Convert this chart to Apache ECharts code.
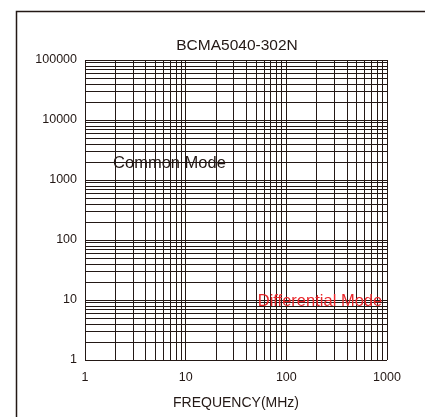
<!DOCTYPE html>
<html><head><meta charset="utf-8">
<script src="https://cdn.jsdelivr.net/npm/echarts@6/dist/echarts.min.js"></script>
<style>html,body{margin:0;padding:0;background:#fff}#c{width:425px;height:417px}</style>
</head><body><div id="c"></div>
<script>
var title = 'BCMA5040-302N';
var xName = 'FREQUENCY(MHz)';
var xRange = [1, 1000];
var yRange = [1, 100000];
var xTicks = [1, 10, 100, 1000];
var yTicks = [1, 10, 100, 1000, 10000, 100000];
var annotations = [
  {text: 'Common Mode', x: 1.9, y: 1880, color: '#231815'},
  {text: 'Differential Mode', x: 52, y: 9.6, color: '#e8262a'}
];

function logGrid(lo, hi) {
  var out = [];
  for (var d = lo; d < hi; d *= 10) {
    for (var k = 1; k <= 9; k++) out.push(d * k);
  }
  out.push(hi);
  return out;
}
var gridXv = logGrid(xRange[0], xRange[1]);
var gridYv = logGrid(yRange[0], yRange[1]);
var lineColor = '#231815';
var markData = [];
gridXv.forEach(function (v) { markData.push({xAxis: v}); });
gridYv.forEach(function (v) { markData.push({yAxis: v}); });

var font = 'Liberation Sans, Arial';
var chart = echarts.init(document.getElementById('c'), null, {renderer: 'canvas'});
chart.setOption({
  animation: false,
  backgroundColor: '#fff',
  title: {text: title, left: 232, top: 33, textAlign: 'center',
    textStyle: {fontFamily: font, fontSize: 15.5, fontWeight: 'normal', color: '#231815'}},
  grid: {left: 85, right: 38, top: 60, bottom: 57},
  graphic: [{type: 'polyline', silent: true,
    shape: {points: [[16.5, 430], [16.5, 11.5], [430, 11.5]]},
    style: {stroke: '#231815', lineWidth: 1.5, fill: null}}],
  xAxis: {type: 'log', logBase: 10, min: xRange[0], max: xRange[1],
    name: xName, nameLocation: 'middle', nameGap: 36,
    nameTextStyle: {fontFamily: font, fontSize: 14, color: '#231815'},
    axisLine: {show: false}, axisTick: {show: false}, splitLine: {show: false},
    axisLabel: {fontFamily: font, fontSize: 12.5, color: '#231815', margin: 11,
      formatter: function (v) { return xTicks.indexOf(v) >= 0 ? String(v) : ''; }}},
  yAxis: {type: 'log', logBase: 10, min: yRange[0], max: yRange[1],
    axisLine: {show: false}, axisTick: {show: false}, splitLine: {show: false},
    axisLabel: {fontFamily: font, fontSize: 12.5, color: '#231815', margin: 8,
      formatter: function (v) { return yTicks.indexOf(v) >= 0 ? String(v) : ''; }}},
  series: [{
    type: 'line', data: [], silent: true, z: 1,
    markLine: {silent: true, symbol: 'none', animation: false,
      label: {show: false},
      lineStyle: {color: lineColor, width: 1, type: 'solid', opacity: 1},
      emphasis: {disabled: true},
      data: markData}
  }, {
    type: 'scatter', symbolSize: 0, silent: true, z: 10,
    itemStyle: {opacity: 1},
    data: annotations.map(function (a) {
      return {value: [a.x, a.y], label: {show: true, position: 'right', distance: 0,
        formatter: a.text, color: a.color, fontFamily: font, fontSize: 16.5, opacity: 1}};
    })
  }]
});
</script></body></html>
